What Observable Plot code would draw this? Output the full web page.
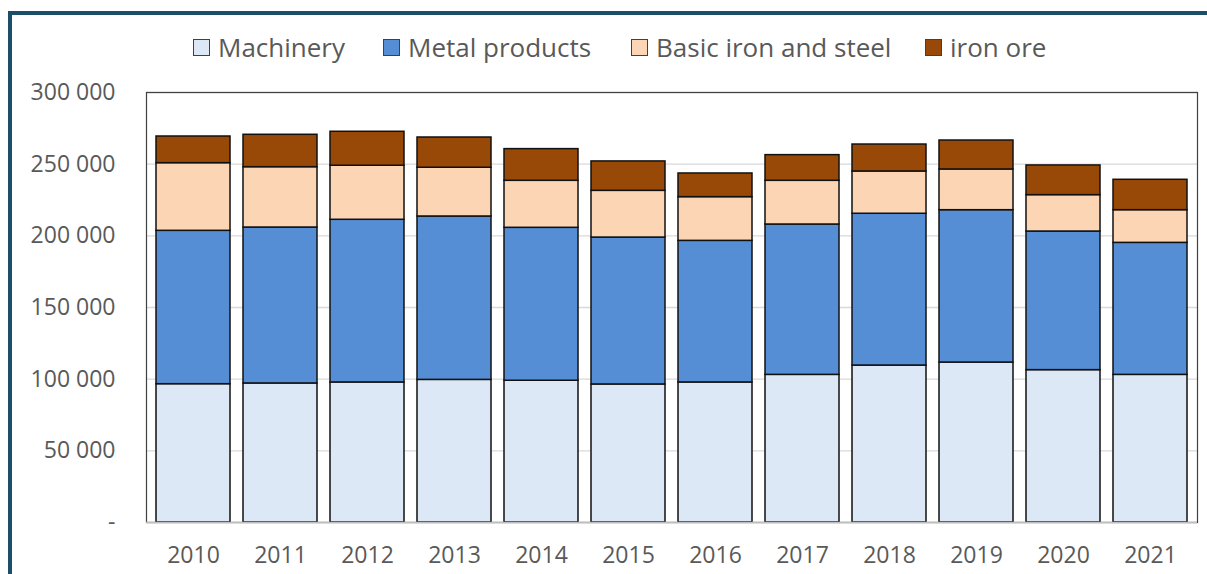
<!DOCTYPE html>
<html>
<head>
<meta charset="utf-8">
<script src="https://cdn.jsdelivr.net/npm/d3@7"></script>
<script src="https://cdn.jsdelivr.net/npm/@observablehq/plot@0.6"></script>
<style>
  html, body { margin: 0; padding: 0; background: #fff; }
  body { width: 1207px; height: 574px; position: relative; overflow: hidden; font-family: "Open Sans", sans-serif; }
  #frame { position: absolute; left: 8px; top: 11px; width: 1210px; height: 580px; border-top: 4px solid #1d4e69; border-left: 4px solid #1d4e69; box-sizing: border-box; }
  #chart { position: absolute; left: 0; top: 0; }
  .leg { position: absolute; top: 29px; display: flex; align-items: center; font-size: 26px; color: #595959; white-space: nowrap; }
  .sw { width: 15px; height: 15px; border: 1px solid #404040; margin-right: 8px; }
</style>
</head>
<body>
<div id="frame"></div>
<div id="chart"></div>
<div id="legend"></div>
<script>
const years = ["2010","2011","2012","2013","2014","2015","2016","2017","2018","2019","2020","2021"];
const seriesNames = ["Machinery", "Metal products", "Basic iron and steel", "iron ore"];
const machinery   = [96500, 97000, 97700, 99500, 98900, 96300, 97700, 103000, 109500, 111600, 106300, 103000];
const metalProducts = [107000, 108800, 113500, 114000, 106700, 102500, 98800, 104900, 105900, 106300, 96700, 92100];
const basicIronSteel = [47200, 42100, 37700, 34000, 32800, 32600, 30500, 30500, 29500, 28400, 25400, 22800];
const ironOre     = [18600, 22600, 23700, 21100, 22100, 20500, 16500, 17900, 18800, 20200, 20700, 21200];
const colors = ["#dce8f5", "#558ed5", "#fcd5b5", "#984807"];
const yTicks = [0, 50000, 100000, 150000, 200000, 250000, 300000];

const allSeries = [machinery, metalProducts, basicIronSteel, ironOre];
const data = [];
seriesNames.forEach((s, i) => years.forEach((y, j) => data.push({year: y, series: s, value: allSeries[i][j]})));

const fmt = v => v === 0 ? "-" : d3.format(",")(v).replace(/,/g, "\u00a0");

const chart = Plot.plot({
  width: 1207,
  height: 574,
  marginLeft: 146,
  marginRight: 10,
  marginTop: 92,
  marginBottom: 52,
  style: { fontFamily: "Open Sans, sans-serif", fontSize: "23px", color: "#595959", background: "transparent" },
  x: { domain: years, paddingInner: 0.154, paddingOuter: 0.06, label: null, tickSize: 0, tickPadding: 24 },
  y: { domain: [0, 300000], ticks: yTicks, tickFormat: fmt, label: null, tickSize: 0, tickPadding: 31 },
  color: { domain: seriesNames, range: colors },
  marks: [
    Plot.gridY(yTicks, { stroke: "#d9d9d9", strokeOpacity: 1, strokeWidth: 1.3 }),
    Plot.barY(data, { x: "year", y: "value", fill: "series", z: "series", order: seriesNames, stroke: "#111", strokeWidth: 1.5 }),
    Plot.frame({ stroke: "#404040", strokeWidth: 1.2 }),
    Plot.ruleY([0], { stroke: "#bfbfbf", strokeWidth: 1.5 })
  ]
});
document.getElementById("chart").appendChild(chart);

const legendX = [193, 383, 631, 925];
const legend = document.getElementById("legend");
seriesNames.forEach((s, i) => {
  const item = document.createElement("div");
  item.className = "leg";
  item.style.left = legendX[i] + "px";
  const sw = document.createElement("div");
  sw.className = "sw";
  sw.style.background = colors[i];
  item.appendChild(sw);
  const t = document.createElement("span");
  t.textContent = s;
  item.appendChild(t);
  legend.appendChild(item);
});
</script>
</body>
</html>
